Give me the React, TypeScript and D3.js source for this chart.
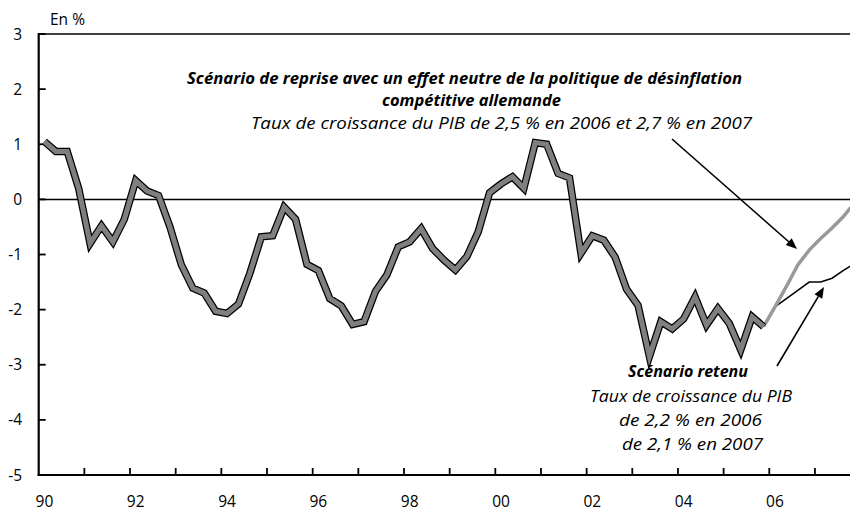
import React from "react";
import * as d3 from "d3";

// quarterly categories 1990Q1 .. 2007Q4
const years = d3.range(1990, 2008);
const quarters: string[] = years.flatMap((y) => [1, 2, 3, 4].map((q) => `${y}Q${q}`));

// observed series 1990Q1 .. 2005Q4
const observed = [
  1.05, 0.87, 0.87, 0.2, -0.8, -0.48, -0.77, -0.36,
  0.34, 0.15, 0.07, -0.5, -1.19, -1.61, -1.7, -2.03,
  -2.07, -1.9, -1.34, -0.68, -0.66, -0.14, -0.36, -1.18,
  -1.29, -1.8, -1.93, -2.27, -2.22, -1.67, -1.37, -0.86,
  -0.77, -0.53, -0.89, -1.1, -1.28, -1.04, -0.59, 0.12,
  0.28, 0.41, 0.2, 1.03, 1.0, 0.47, 0.39, -0.98,
  -0.66, -0.74, -1.05, -1.63, -1.92, -2.85, -2.22, -2.35,
  -2.17, -1.77, -2.28, -1.98, -2.25, -2.73, -2.13, -2.31,
];
// scenarios 2005Q4 .. 2007Q4
const reprise = [-2.31, -1.95, -1.58, -1.19, -0.92, -0.71, -0.52, -0.31, -0.06];
const retenu = [-2.31, -1.95, -1.8, -1.65, -1.5, -1.5, -1.43, -1.29, -1.16];

const yTicks = [-5, -4, -3, -2, -1, 0, 1, 2, 3];
const xLabels = ["90", "92", "94", "96", "98", "00", "02", "04", "06"];

const FONT = "'Open Sans', 'DejaVu Sans', sans-serif";

export default function App() {
  const W = 850, H = 512;
  const left = 38.7, right = 860.6, top = 34, bottom = 475;
  const x = d3.scaleBand<string>().domain(quarters).range([left, right]).paddingInner(0).paddingOuter(0);
  const cx = (i: number) => (x(quarters[i]) as number) + x.bandwidth() / 2;
  const y = d3.scaleLinear().domain([-5, 3]).range([bottom, top]);
  const yearX = (yr: number) => x(`${yr}Q1`) as number;

  const line = d3.line<number>().x((_, i) => cx(i)).y((d) => y(d));
  const offset = observed.length - 1;
  const lineS = d3.line<number>().x((_, i) => cx(i + offset)).y((d) => y(d));

  const arrow = (x1: number, y1: number, x2: number, y2: number, key: string) => {
    const a = Math.atan2(y2 - y1, x2 - x1);
    const L = 11, Wd = 4.5;
    const bx = x2 - L * Math.cos(a), by = y2 - L * Math.sin(a);
    const p1 = [bx + Wd * Math.sin(a), by - Wd * Math.cos(a)];
    const p2 = [bx - Wd * Math.sin(a), by + Wd * Math.cos(a)];
    return (
      <g key={key}>
        <line x1={x1} y1={y1} x2={bx} y2={by} stroke="#000" strokeWidth={1.6} />
        <polygon points={`${x2},${y2} ${p1[0]},${p1[1]} ${p2[0]},${p2[1]}`} fill="#000" />
      </g>
    );
  };

  const ann = (txt: string, x0: number, x1: number, yy: number, bold: boolean, key: string) => (
    <text key={key} x={x0} y={yy} fontSize={16} fontWeight={bold ? "bold" : "normal"} fontStyle="italic"
      textLength={x1 - x0} lengthAdjust="spacingAndGlyphs" fill="#000">{txt}</text>
  );

  return (
    <svg width={W} height={H} style={{ position: "absolute", left: 0, top: 0, background: "#fff" }} fontFamily={FONT}>
      {/* top border and zero line */}
      <line x1={left} x2={W} y1={y(3)} y2={y(3)} stroke="#000" strokeWidth={1.5} />
      <line x1={left} x2={W} y1={y(0)} y2={y(0)} stroke="#000" strokeWidth={1.5} />
      {/* axes */}
      <line x1={left} x2={left} y1={top - 1} y2={bottom + 1} stroke="#000" strokeWidth={2.2} />
      <line x1={left - 1} x2={W} y1={bottom} y2={bottom} stroke="#000" strokeWidth={2.2} />
      {yTicks.map((t) => (
        <g key={t}>
          <line x1={left} x2={left + 7} y1={y(t)} y2={y(t)} stroke="#000" strokeWidth={1.8} />
          <text x={22} y={y(t)} dy="0.36em" textAnchor="end" fontSize={15.5} fill="#000">{t}</text>
        </g>
      ))}
      {years.slice(1).map((yr) => (
        <line key={yr} x1={yearX(yr)} x2={yearX(yr)} y1={bottom - 7} y2={bottom} stroke="#000" strokeWidth={1.8} />
      ))}
      {xLabels.map((lab, k) => (
        <text key={lab} x={cx(k * 8)} y={507} textAnchor="middle" fontSize={15.5} fill="#000">{lab}</text>
      ))}
      <text x={50} y={25} fontSize={15.5} fill="#000">En %</text>

      {/* scenarios */}
      <path d={lineS(retenu) as string} fill="none" stroke="#000" strokeWidth={1.5} />
      <path d={lineS(reprise) as string} fill="none" stroke="#999" strokeWidth={3.5} />
      {/* observed */}
      <path d={line(observed) as string} fill="none" stroke="#000" strokeWidth={7.5} strokeLinejoin="miter" />
      <path d={line(observed) as string} fill="none" stroke="#7f7f7f" strokeWidth={5} strokeLinejoin="miter" />

      {/* annotations */}
      {ann("Scénario de reprise avec un effet neutre de la politique de désinflation", 187, 742, 84, true, "t1")}
      {ann("compétitive allemande", 382, 561, 106, true, "t2")}
      {ann("Taux de croissance du PIB de 2,5 % en 2006 et 2,7 % en 2007", 251, 752, 129, false, "t3")}
      {arrow(672, 139, 797, 249, "a1")}

      {ann("Scénario retenu", 628, 748, 377, true, "r1")}
      {ann("Taux de croissance du PIB", 590, 792, 402, false, "r2")}
      {ann("de 2,2 % en 2006", 619, 762, 426, false, "r3")}
      {ann("de 2,1 % en 2007", 622, 763, 450, false, "r4")}
      {arrow(777, 366, 824, 287, "a2")}
    </svg>
  );
}
